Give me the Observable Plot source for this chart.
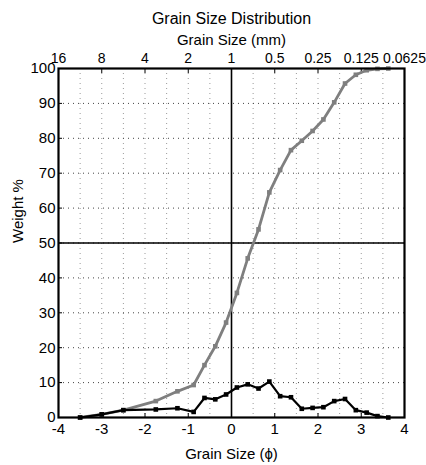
<!DOCTYPE html>
<html>
<head>
<meta charset="utf-8">
<script src="https://cdn.jsdelivr.net/npm/d3@7"></script>
<script src="https://cdn.jsdelivr.net/npm/@observablehq/plot@0.6"></script>
<style>
  html, body { margin: 0; padding: 0; background: #fff; }
</style>
</head>
<body>
<div id="chart"></div>
<script>
const title = "Grain Size Distribution";
const topLabel = "Grain Size (mm)";
const xLabel = "Grain Size (\u03D5)";
const yLabel = "Weight %";

const phiTicks = [-4, -3, -2, -1, 0, 1, 2, 3, 4];
const mmTickLabels = ["16", "8", "4", "2", "1", "0.5", "0.25", "0.125", "0.0625"];
const yTicks = [0, 10, 20, 30, 40, 50, 60, 70, 80, 90, 100];

const phi = [-3.5, -3, -2.5, -1.75, -1.25, -0.875, -0.625, -0.375, -0.125, 0.125, 0.375, 0.625, 0.875, 1.125, 1.375, 1.625, 1.875, 2.125, 2.375, 2.625, 2.875, 3.125, 3.375, 3.625];
const cumulative = [0, 0.9, 2.1, 4.7, 7.5, 9.3, 15.0, 20.4, 27.2, 35.7, 45.6, 53.9, 64.5, 70.9, 76.6, 79.3, 82.1, 85.4, 90.3, 95.7, 98.2, 99.5, 99.9, 100];
const frequency = [0, 0.9, 2.1, 2.3, 2.65, 1.6, 5.6, 5.2, 6.6, 8.6, 9.5, 8.3, 10.3, 6.1, 5.8, 2.5, 2.75, 2.95, 4.7, 5.3, 2.1, 1.4, 0.4, 0];

const cumData = phi.map((p, i) => ({phi: p, w: cumulative[i]}));
const freqData = phi.map((p, i) => ({phi: p, w: frequency[i]}));
const gridXVals = d3.range(-3.5, 4, 0.5);
const gridYVals = yTicks.slice(1, -1);

const font = "'Liberation Sans', Arial, sans-serif";

const chart = Plot.plot({
  width: 426,
  height: 465,
  marginLeft: 58,
  marginRight: 22,
  marginTop: 68,
  marginBottom: 48,
  style: {fontSize: "14px", fontFamily: font, color: "#000"},
  x: {domain: [-4, 4]},
  y: {domain: [0, 100]},
  marks: [
    Plot.ruleX(gridXVals, {stroke: "#9a9a9a", strokeDasharray: "1,4", strokeWidth: 1}),
    Plot.ruleY(gridYVals, {stroke: "#444", strokeDasharray: "1,4", strokeWidth: 1}),
    Plot.ruleX([0], {stroke: "#000", strokeWidth: 1.6}),
    Plot.ruleY([50], {stroke: "#000", strokeWidth: 1.6}),
    Plot.axisX(phiTicks, {anchor: "bottom", tickSize: -4, tickPadding: 10, tickFormat: d => d, fontSize: 15, label: null}),
    Plot.axisX(phiTicks, {anchor: "top", tickSize: -4, tickPadding: 10, tickFormat: d => mmTickLabels[phiTicks.indexOf(d)], fontSize: 14, label: null}),
    Plot.axisY(yTicks, {anchor: "left", tickSize: -4, tickPadding: 7, fontSize: 15, label: null}),
    Plot.line(cumData, {x: "phi", y: "w", stroke: "#7f7f7f", strokeWidth: 2.8}),
    Plot.dot(cumData, {x: "phi", y: "w", symbol: "square", r: 2.6, fill: "#7f7f7f", stroke: "none"}),
    Plot.line(freqData, {x: "phi", y: "w", stroke: "#000", strokeWidth: 2.2}),
    Plot.dot(freqData, {x: "phi", y: "w", symbol: "square", r: 2.6, fill: "#000", stroke: "none"}),
    Plot.frame({stroke: "#000", strokeWidth: 2.2}),
    Plot.text([title], {frameAnchor: "top", dy: -45, fontSize: 16, text: d => d, lineAnchor: "bottom"}),
    Plot.text([topLabel], {frameAnchor: "top", dy: -24, fontSize: 15, text: d => d, lineAnchor: "bottom"}),
    Plot.text([xLabel], {frameAnchor: "bottom", dy: 41, fontSize: 15, text: d => d, lineAnchor: "bottom"}),
    Plot.text([yLabel], {frameAnchor: "left", dx: -40, rotate: -90, fontSize: 15, text: d => d})
  ]
});
document.getElementById("chart").appendChild(chart);
</script>
</body>
</html>
